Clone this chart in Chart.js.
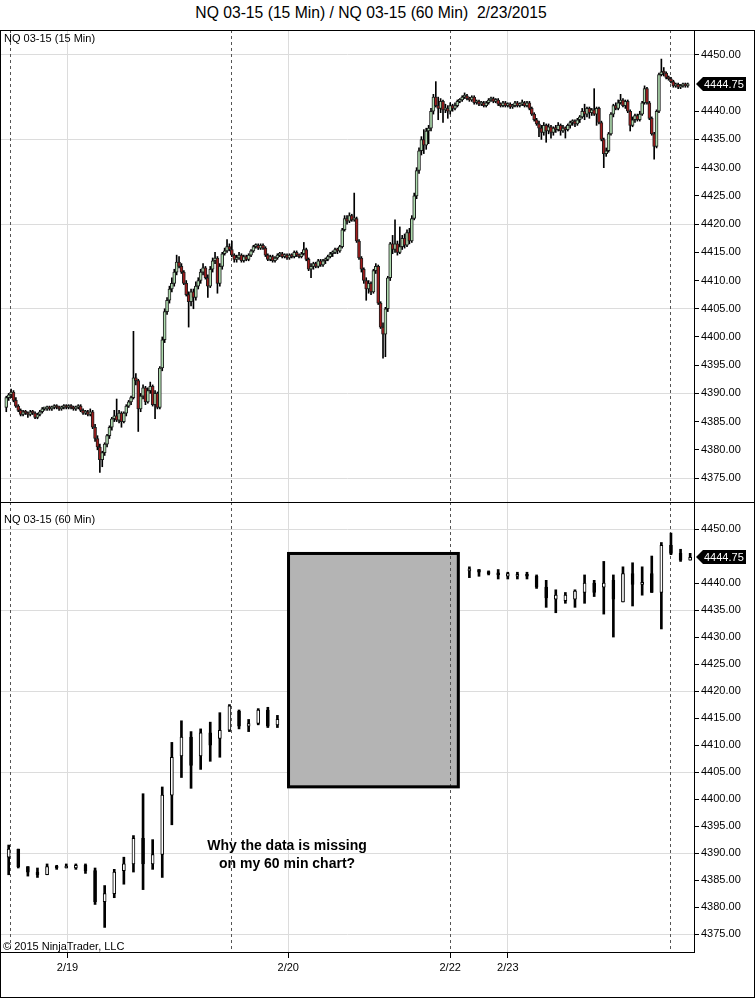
<!DOCTYPE html>
<html>
<head>
<meta charset="utf-8">
<script src="https://cdn.jsdelivr.net/npm/chart.js@4.4.1/dist/chart.umd.min.js"></script>
<style>
  body { margin: 0; background: #fff; font-family: "Liberation Sans", Arial, sans-serif; }
  #wrap { position: relative; width: 755px; height: 999px; overflow: hidden; background: #fff; }
  #title { position: absolute; left: 0; top: 4px; width: 742px; text-align: center; font-size: 15.7px; color: #000; }
  #frame { position: absolute; left: 0; top: 30px; width: 753px; height: 966px; border: 1px solid #000; pointer-events: none; }
  #sep { position: absolute; left: 0; top: 502px; width: 755px; height: 1px; background: #000; }
  canvas { position: absolute; left: 0; }
  #c15 { top: 30px; }
  #c60 { top: 502px; }
</style>
</head>
<body>
<div id="wrap">
  <div id="title">NQ 03-15 (15 Min) / NQ 03-15 (60 Min)&nbsp; 2/23/2015</div>
  <canvas id="c15" width="755" height="472"></canvas>
  <canvas id="c60" width="755" height="497"></canvas>
  <div id="sep"></div>
  <div id="frame"></div>
</div>
<script>
// time axis is in 15 min bar slots, slot 0 = first bar of the 2/18 evening session
const firstSlot15 = -2;
const dateSlots = [23.5, 115.5, 183, 207];
const dateLabels = ['2/19', '2/20', '2/22', '2/23'];
const dateGrid = [true, true, false, true];   // 2/22 falls on a session break
const sessionBreaks = [-0.5, 91.5, 183, 274.5];
const priceTicks = [4450, 4440, 4435, 4430, 4425, 4420, 4415, 4410, 4405, 4400, 4395, 4390, 4385, 4380, 4375];
const gridPrices = [4450, 4435, 4420, 4405, 4390, 4375];
const lastPrice = 4444.75;

// NQ 03-15 (15 Min)
const open15 = [
  4387.5, 4389.25, 4389.75, 4390.25, 4388.75, 4387.75, 4387, 4386.25, 4386.75, 4386.5,
  4386.25, 4386.75, 4386.5, 4385.75, 4386.25, 4386.75, 4387.25, 4387.25, 4387.5, 4387.25,
  4387.5, 4387.75, 4387.5, 4387.25, 4387.5, 4387.75, 4387.5, 4387.75, 4387.5, 4387.25,
  4387.5, 4387.75, 4387, 4386.5, 4386.75, 4386.25, 4386.75, 4384, 4382, 4380.5,
  4378.25, 4379.5, 4381, 4382.5, 4384, 4385.5, 4386, 4385.25, 4386.5, 4385,
  4386.5, 4387.75, 4388.5, 4389.25, 4392.75, 4392.25, 4387.25, 4389.5, 4391, 4388.5,
  4390.5, 4391.25, 4388, 4390, 4387.5, 4394.5, 4399.5, 4404.5, 4406.5, 4408.5,
  4409.5, 4411.5, 4413.25, 4412.5, 4411.5, 4409.5, 4407.5, 4406.25, 4408, 4407,
  4409, 4410, 4411.5, 4412.25, 4410.5, 4409, 4412, 4413.5, 4414, 4409.5,
  4412.5, 4414.75, 4415.25, 4416, 4415.5, 4414.5, 4413.75, 4414, 4414.5, 4413.5,
  4414.25, 4413.75, 4414.5, 4415.25, 4416, 4416.25, 4415.75, 4416.25, 4415.75, 4414.5,
  4413.75, 4414.25, 4413.5, 4414, 4414.5, 4414.75, 4414.25, 4414.5, 4414, 4414.5,
  4414.25, 4415, 4414.5, 4414.25, 4414.75, 4415.5, 4413.75, 4412, 4412.5, 4413,
  4412.5, 4413.5, 4412.75, 4413.5, 4413.75, 4414.25, 4414.75, 4415, 4415.5, 4415.25,
  4416, 4419, 4421, 4420.5, 4421.5, 4420.75, 4421, 4417, 4414, 4412,
  4410, 4408.5, 4409.5, 4408, 4411.75, 4412.5, 4406, 4401.75, 4400.5, 4405,
  4410.5, 4416.5, 4415.5, 4416.5, 4415, 4416, 4417.5, 4416.25, 4418.5, 4417,
  4421, 4425, 4429.5, 4433, 4435, 4434, 4436.5, 4437, 4440, 4442.5,
  4441, 4440.5, 4441.75, 4440.25, 4440.5, 4440, 4441, 4440.5, 4441, 4441.75,
  4442, 4442.5, 4442.75, 4442.25, 4442, 4442.5, 4441.5, 4441.75, 4441.25, 4441.5,
  4441, 4441.5, 4442, 4442.25, 4441.75, 4442, 4441.25, 4441, 4441.5, 4441,
  4441.25, 4440.75, 4441, 4441.5, 4441, 4441.25, 4441.5, 4441, 4441.5, 4440.5,
  4439.5, 4438.5, 4437.75, 4437, 4436.25, 4437.5, 4436.5, 4437.25, 4436.25, 4437,
  4436.75, 4437.5, 4436.5, 4437, 4436.75, 4437.5, 4438, 4438.25, 4437.75, 4438.5,
  4439, 4440, 4439.5, 4440.5, 4439.75, 4440.25, 4439.5, 4440.5, 4438, 4435,
  4432.5, 4433, 4436, 4439.5, 4441, 4440.5, 4441.5, 4442, 4441, 4441.75,
  4440, 4437.5, 4438.5, 4439.25, 4438.5, 4439.5, 4441.5, 4444, 4441.5, 4438.75,
  4436, 4433.75, 4440, 4446.5, 4447, 4446.75, 4446, 4445.75, 4445.25, 4444.5,
  4444.75, 4444.25, 4444.5, 4444.75, 4444.5
];
const high15 = [
  4389.5, 4390, 4390.75, 4390.5, 4389.25, 4388, 4387.25, 4387, 4387, 4386.75,
  4387, 4387, 4386.75, 4386.5, 4387, 4387.5, 4387.5, 4387.75, 4387.75, 4387.75,
  4388, 4388, 4387.75, 4387.75, 4388, 4388, 4388, 4388, 4387.75, 4387.75,
  4388, 4388, 4387.25, 4387, 4387, 4387.25, 4387, 4384.5, 4382.5, 4381,
  4379.75, 4381.25, 4382.75, 4384.25, 4385.75, 4387, 4389, 4387, 4386.75, 4386.75,
  4388, 4388.75, 4389.5, 4401, 4393.5, 4392.5, 4390, 4391.5, 4391.25, 4391,
  4392, 4391.5, 4390.5, 4390.25, 4394.75, 4400, 4405, 4407, 4409, 4410.5,
  4412, 4414.5, 4414.25, 4413, 4411.75, 4410, 4408, 4408.5, 4408.5, 4409.75,
  4410.5, 4412, 4413, 4412.5, 4411, 4412.5, 4414, 4415, 4414.25, 4413,
  4415, 4415.75, 4417.25, 4416.5, 4417, 4414.75, 4414.5, 4415, 4414.75, 4414.5,
  4414.5, 4414.75, 4415.5, 4416.25, 4416.5, 4416.5, 4416.5, 4416.5, 4416, 4414.75,
  4414.5, 4414.5, 4414.25, 4414.75, 4415, 4415, 4414.75, 4414.75, 4414.75, 4414.75,
  4415.25, 4415.25, 4414.75, 4415, 4416.75, 4415.75, 4414, 4413, 4413.25, 4413.25,
  4413.75, 4413.75, 4413.75, 4414, 4414.5, 4415, 4415.25, 4415.75, 4415.75, 4416.25,
  4419.25, 4421.5, 4421.5, 4422, 4421.75, 4425.5, 4421.25, 4417.25, 4414.25, 4412.25,
  4410.5, 4410, 4409.75, 4412, 4413, 4412.75, 4406.25, 4402.5, 4405.25, 4410.75,
  4416.75, 4418, 4420.75, 4417, 4419.5, 4418, 4418.25, 4419, 4419.25, 4421.5,
  4425.5, 4430, 4433.5, 4435.5, 4436.75, 4437, 4437.5, 4440.5, 4443, 4445.25,
  4442.5, 4442.25, 4442, 4441.25, 4441, 4441.5, 4441.25, 4441.5, 4442, 4442.25,
  4442.75, 4443.25, 4443, 4442.5, 4442.75, 4442.75, 4442, 4442, 4441.75, 4441.75,
  4441.75, 4442.25, 4442.5, 4442.5, 4442.25, 4442.25, 4441.5, 4441.75, 4441.75, 4441.5,
  4441.5, 4441.25, 4441.75, 4441.75, 4441.5, 4442, 4441.75, 4441.75, 4441.75, 4440.75,
  4439.75, 4438.75, 4438.25, 4437.5, 4438, 4437.75, 4437.75, 4437.5, 4437.25, 4437.5,
  4438, 4437.75, 4437.5, 4437.25, 4437.75, 4438.25, 4438.5, 4438.5, 4438.75, 4439.25,
  4440.5, 4441.25, 4440.75, 4440.75, 4440.5, 4444, 4440.75, 4440.75, 4438.25, 4435.25,
  4433.5, 4436.25, 4439.75, 4441.25, 4441.5, 4442, 4443, 4442.25, 4442, 4442,
  4440.25, 4439, 4439.5, 4439.5, 4440, 4441.75, 4444.5, 4444.25, 4441.75, 4439,
  4436.25, 4440.25, 4446.75, 4449.25, 4447.75, 4447, 4446.25, 4446, 4445.5, 4445,
  4445, 4444.75, 4445, 4445, 4445
];
const low15 = [
  4386.75, 4388.75, 4389.25, 4388.5, 4387.5, 4386.75, 4386, 4386, 4386.25, 4385.75,
  4386, 4386.25, 4385.5, 4385.5, 4386, 4386.5, 4387, 4387, 4387, 4387,
  4387.25, 4387.25, 4387, 4387, 4387.25, 4387.25, 4387.25, 4387.25, 4387, 4387,
  4387.25, 4386.75, 4386.25, 4386.25, 4386, 4386, 4383.75, 4381.5, 4380, 4376,
  4377, 4379, 4380.5, 4382, 4383.5, 4385, 4385, 4384.75, 4384, 4384.75,
  4386, 4387.5, 4388, 4389, 4391.5, 4383.25, 4386.75, 4389, 4388, 4388.25,
  4390, 4387.75, 4385.5, 4387.25, 4387.25, 4394, 4399, 4404, 4406, 4408,
  4409, 4411, 4412.25, 4411.25, 4409.25, 4407.25, 4401.75, 4405.5, 4405, 4406.5,
  4408.5, 4409.5, 4411, 4410.25, 4407, 4408.75, 4411.5, 4413, 4407.75, 4409,
  4412, 4414.5, 4415, 4415.25, 4414.25, 4413.25, 4413.25, 4413.75, 4413.25, 4413.25,
  4413.5, 4413.5, 4414.25, 4415, 4415.75, 4415.5, 4415.5, 4415.5, 4414.25, 4413.5,
  4413.5, 4413.25, 4413.25, 4413.75, 4414.25, 4414, 4414, 4413.75, 4413.75, 4414,
  4414, 4414.25, 4414, 4414, 4414.5, 4413.5, 4411.75, 4410.5, 4412, 4412.25,
  4412.25, 4412.5, 4412.5, 4413, 4413.5, 4414, 4414.25, 4414.75, 4414.75, 4415,
  4415.75, 4418.75, 4420, 4420.25, 4420.5, 4420.5, 4416.75, 4413.75, 4411.5, 4409.5,
  4406.5, 4407.75, 4407.5, 4407.75, 4411.25, 4405.75, 4401.5, 4396.25, 4396.5, 4404.5,
  4410, 4414.75, 4415, 4414.5, 4414.75, 4415.5, 4415.75, 4416, 4416.5, 4416.75,
  4420.75, 4424.5, 4429, 4432.25, 4432.5, 4433.25, 4434.25, 4436.5, 4439.5, 4440.75,
  4438.5, 4439.75, 4438, 4439.75, 4438.75, 4439.5, 4440, 4440.25, 4440.75, 4441.5,
  4441.75, 4442.25, 4442, 4441.75, 4441.75, 4441.25, 4441.25, 4441, 4441, 4440.75,
  4440.75, 4441.25, 4441.75, 4441.5, 4441.5, 4441, 4440.75, 4440.75, 4440.75, 4440.75,
  4440.5, 4440.5, 4440.75, 4440.75, 4440.75, 4441, 4440.75, 4440.75, 4440.25, 4439.25,
  4438.25, 4437.5, 4435.5, 4435, 4435.75, 4434.5, 4436, 4435.25, 4435.75, 4436.25,
  4436.5, 4435.75, 4436.25, 4435.25, 4436.5, 4437, 4437.5, 4437.25, 4437.5, 4438,
  4438.75, 4438.5, 4439, 4438.75, 4439.25, 4439.25, 4437.5, 4437.75, 4434.75, 4430,
  4432, 4432.75, 4435.75, 4439, 4440.25, 4440.25, 4441.25, 4440.75, 4440.5, 4439.75,
  4436.5, 4437.25, 4438, 4438.25, 4438.25, 4439.25, 4441.25, 4441.25, 4438.5, 4435.75,
  4431.5, 4433.5, 4439.75, 4446.25, 4446.25, 4445.75, 4445.5, 4445, 4444.25, 4444.25,
  4444, 4444, 4444.25, 4444.25, 4444.25
];
const close15 = [
  4389.25, 4389.75, 4390.25, 4388.75, 4387.75, 4387, 4386.25, 4386.75, 4386.5, 4386.25,
  4386.75, 4386.5, 4385.75, 4386.25, 4386.75, 4387.25, 4387.25, 4387.5, 4387.25, 4387.5,
  4387.75, 4387.5, 4387.25, 4387.5, 4387.75, 4387.5, 4387.75, 4387.5, 4387.25, 4387.5,
  4387.75, 4387, 4386.5, 4386.75, 4386.25, 4386.75, 4384, 4382, 4380.5, 4378.25,
  4379.5, 4381, 4382.5, 4384, 4385.5, 4386, 4385.25, 4386.5, 4385, 4386.5,
  4387.75, 4388.5, 4389.25, 4392.75, 4392.25, 4387.25, 4389.5, 4391, 4388.5, 4390.5,
  4391.25, 4388, 4390, 4387.5, 4394.5, 4399.5, 4404.5, 4406.5, 4408.5, 4409.5,
  4411.5, 4413.25, 4412.5, 4411.5, 4409.5, 4407.5, 4406.25, 4408, 4407, 4409,
  4410, 4411.5, 4412.25, 4410.5, 4409, 4412, 4413.5, 4414, 4409.5, 4412.5,
  4414.75, 4415.25, 4416, 4415.5, 4414.5, 4413.75, 4414, 4414.5, 4413.5, 4414.25,
  4413.75, 4414.5, 4415.25, 4416, 4416.25, 4415.75, 4416.25, 4415.75, 4414.5, 4413.75,
  4414.25, 4413.5, 4414, 4414.5, 4414.75, 4414.25, 4414.5, 4414, 4414.5, 4414.25,
  4415, 4414.5, 4414.25, 4414.75, 4415.5, 4413.75, 4412, 4412.5, 4413, 4412.5,
  4413.5, 4412.75, 4413.5, 4413.75, 4414.25, 4414.75, 4415, 4415.5, 4415.25, 4416,
  4419, 4421, 4420.5, 4421.5, 4420.75, 4421, 4417, 4414, 4412, 4410,
  4408.5, 4409.5, 4408, 4411.75, 4412.5, 4406, 4401.75, 4400.5, 4405, 4410.5,
  4416.5, 4415.5, 4416.5, 4415, 4416, 4417.5, 4416.25, 4418.5, 4417, 4421,
  4425, 4429.5, 4433, 4435, 4434, 4436.5, 4437, 4440, 4442.5, 4441,
  4440.5, 4441.75, 4440.25, 4440.5, 4440, 4441, 4440.5, 4441, 4441.75, 4442,
  4442.5, 4442.75, 4442.25, 4442, 4442.5, 4441.5, 4441.75, 4441.25, 4441.5, 4441,
  4441.5, 4442, 4442.25, 4441.75, 4442, 4441.25, 4441, 4441.5, 4441, 4441.25,
  4440.75, 4441, 4441.5, 4441, 4441.25, 4441.5, 4441, 4441.5, 4440.5, 4439.5,
  4438.5, 4437.75, 4437, 4436.25, 4437.5, 4436.5, 4437.25, 4436.25, 4437, 4436.75,
  4437.5, 4436.5, 4437, 4436.75, 4437.5, 4438, 4438.25, 4437.75, 4438.5, 4439,
  4440, 4439.5, 4440.5, 4439.75, 4440.25, 4439.5, 4440.5, 4438, 4435, 4432.5,
  4433, 4436, 4439.5, 4441, 4440.5, 4441.5, 4442, 4441, 4441.75, 4440,
  4437.5, 4438.5, 4439.25, 4438.5, 4439.5, 4441.5, 4444, 4441.5, 4438.75, 4436,
  4433.75, 4440, 4446.5, 4447, 4446.75, 4446, 4445.75, 4445.25, 4444.5, 4444.75,
  4444.25, 4444.5, 4444.75, 4444.5, 4444.75
];

// NQ 03-15 (60 Min), one bar per hour; null = hours missing on the 60 min chart
const open60 = [
  4389.25, 4390.75, 4387.5, 4386.5, 4386, 4387.5, 4387.25, 4387.25, 4387.75, 4386.75,
  4381, 4382.5, 4386.75, 4388, 4392.75, 4388, 4389.75, 4400.75, 4408, 4411.5,
  4408, 4412.25, 4411.25, 4412.75, 4416.25, 4413.5, 4414, 4416.5, 4413.75,
  null, null, null, null, null, null, null, null, null, null,
  null, null, null, null, null, null, null, null, null,
  4442.25, 4442.5, 4442, 4441.75, 4441.25, 4441.25, 4441.5, 4441.25, 4439.25, 4437,
  4436.75, 4437, 4438.25, 4440, 4439.25, 4440.5, 4436.5, 4441.75, 4439.75, 4441.75,
  4438.25, 4447, 4445.5, 4444.25
];
const high60 = [
  4391.5, 4390.75, 4387.5, 4387.25, 4388, 4387.75, 4388, 4388, 4388, 4387.25,
  4384, 4387, 4389.25, 4393.25, 4401, 4392.5, 4402.25, 4410.5, 4414.5, 4412.5,
  4413, 4414.25, 4416, 4417.5, 4416.5, 4414.75, 4416.75, 4417, 4415.5,
  null, null, null, null, null, null, null, null, null, null,
  null, null, null, null, null, null, null, null, null,
  4443, 4442.5, 4442.25, 4442.5, 4442, 4442, 4442, 4441.5, 4440.5, 4438.75,
  4438.25, 4438.75, 4441.5, 4440.5, 4444, 4441.5, 4443, 4443.75, 4443, 4445,
  4447.5, 4449.25, 4446.25, 4445.5
];
const low60 = [
  4386, 4387.25, 4385.75, 4385.5, 4386, 4387, 4387.25, 4387, 4386.25, 4380.5,
  4376.25, 4381.75, 4384.25, 4386.5, 4383.25, 4387, 4385.5, 4395.25, 4404, 4402,
  4405.5, 4407, 4407.75, 4412.5, 4413, 4412.5, 4413.75, 4413.25, 4413.25,
  null, null, null, null, null, null, null, null, null, null,
  null, null, null, null, null, null, null, null, null,
  4441, 4441.25, 4441.5, 4440.75, 4440.75, 4440.75, 4440.75, 4439, 4435.5, 4434.5,
  4436.25, 4435.5, 4436.25, 4437.5, 4434.25, 4430, 4436.5, 4435.75, 4437.75, 4438.25,
  4431.5, 4445.25, 4444, 4444.25
];
const close60 = [
  4390.75, 4387.5, 4386.5, 4386, 4387.5, 4387.25, 4387.5, 4387.75, 4386.75, 4381,
  4382.5, 4386.5, 4388, 4392.75, 4388, 4389.75, 4400.75, 4407.75, 4411.5, 4406.25,
  4412.25, 4410, 4412.75, 4417.25, 4413.5, 4414, 4416.5, 4413.5, 4414.75,
  null, null, null, null, null, null, null, null, null, null,
  null, null, null, null, null, null, null, null, null,
  4442.5, 4442, 4441.75, 4441.5, 4441.75, 4441.5, 4441.25, 4439.25, 4437.25, 4437.75,
  4437.75, 4438.5, 4440, 4438.25, 4440, 4437, 4441.75, 4439.75, 4440, 4438.25,
  4447, 4445.5, 4444.25, 4444.75
];

// note drawn on the 60 min panel, in slot / price units
const note = { x0: 115, x1: 187, top: 4445.75, bottom: 4402 };
const noteLines = ['Why the data is missing', 'on my 60 min chart?'];
const noteSlot = 115;
const notePrices = [4391.25, 4388];

const upColor = '#afdcaf';
const downColor = '#a01c1c';
const font = 'Liberation Sans, Arial, sans-serif';

// build the candle datasets
const wick15 = [], body15 = [], fill15 = [];
open15.forEach((o, n) => {
  const slot = firstSlot15 + n;
  wick15.push({ x: slot, y: [low15[n], high15[n]] });
  body15.push({ x: slot, y: [o, close15[n]] });
  fill15.push(close15[n] >= o ? upColor : downColor);
});

const wick60 = [], body60 = [], fill60 = [];
open60.forEach((o, k) => {
  if (o === null) return;
  const slot = 4 * k - 1;   // hourly bar sits on its last 15 min slot
  wick60.push({ x: slot, y: [low60[k], high60[k]] });
  body60.push({ x: slot, y: [o, close60[k]] });
  fill60.push(close60[k] >= o ? '#fff' : '#000');
});

function timeAxis(showLabels) {
  return {
    type: 'linear', min: -4.2, max: 284.6, offset: false,
    afterBuildTicks: s => { s.ticks = dateSlots.map(v => ({ value: v })); },
    afterFit: s => { s.paddingLeft = 0; s.paddingRight = 0; s.height = showLabels ? 47 : 0; },
    ticks: {
      display: showLabels, autoSkip: false, maxRotation: 0, color: '#000', padding: 3,
      font: { family: font, size: 11 },
      callback: (v, n) => dateLabels[n]
    },
    grid: {
      offset: false,
      color: c => dateGrid[c.index] ? '#dcdcdc' : 'rgba(0,0,0,0)',
      tickColor: '#000', tickLength: 6, drawTicks: showLabels
    },
    border: { display: showLabels, color: '#000' }
  };
}

function priceAxis(min, max) {
  return {
    position: 'right', min: min, max: max,
    afterBuildTicks: s => { s.ticks = priceTicks.map(v => ({ value: v })); },
    afterFit: s => { s.width = 61; s.paddingTop = 0; s.paddingBottom = 0; },
    ticks: {
      color: '#000', padding: 2, font: { family: font, size: 11 },
      callback: v => v.toFixed(2)
    },
    grid: {
      color: c => c.tick && gridPrices.includes(c.tick.value) ? '#dcdcdc' : 'rgba(0,0,0,0)',
      tickColor: '#000', tickLength: 5
    },
    border: { display: true, color: '#000' }
  };
}

const overlay = {
  id: 'overlay',
  beforeDatasetsDraw(chart, args, opts) {
    const { ctx, chartArea: a, scales: { x, y } } = chart;
    ctx.save();
    if (opts.box) {
      const l = x.getPixelForValue(note.x0), r = x.getPixelForValue(note.x1);
      const t = y.getPixelForValue(note.top), b = y.getPixelForValue(note.bottom);
      ctx.fillStyle = '#b4b4b4';
      ctx.fillRect(l, t, r - l, b - t);
    }
    ctx.strokeStyle = '#555';
    ctx.lineWidth = 1;
    ctx.setLineDash([3, 3]);
    sessionBreaks.forEach(s => {
      const px = Math.round(x.getPixelForValue(s)) + 0.5;
      ctx.beginPath();
      ctx.moveTo(px, a.top);
      ctx.lineTo(px, a.bottom);
      ctx.stroke();
    });
    ctx.setLineDash([]);
    if (opts.box) {
      const l = x.getPixelForValue(note.x0), r = x.getPixelForValue(note.x1);
      const t = y.getPixelForValue(note.top), b = y.getPixelForValue(note.bottom);
      ctx.strokeStyle = '#000';
      ctx.lineWidth = 3;
      ctx.strokeRect(l + 1.5, t + 1.5, r - l - 3, b - t - 3);
    }
    ctx.restore();
  },
  afterDraw(chart, args, opts) {
    const { ctx, chartArea: a, scales: { x, y } } = chart;
    ctx.save();
    ctx.fillStyle = '#000';
    ctx.font = '11px ' + font;
    ctx.textBaseline = 'middle';
    ctx.textAlign = 'left';
    ctx.fillText(opts.label, 4, a.top + opts.labelOffset);
    if (opts.copyright) ctx.fillText('\u00a9 2015 NinjaTrader, LLC', 3, a.bottom - 5);

    // last price flag on the price axis
    const py = Math.round(y.getPixelForValue(lastPrice));
    const x0 = a.right + 2;
    ctx.beginPath();
    ctx.moveTo(x0, py);
    ctx.lineTo(x0 + 7, py - 7);
    ctx.lineTo(x0 + 50, py - 7);
    ctx.lineTo(x0 + 50, py + 7);
    ctx.lineTo(x0 + 7, py + 7);
    ctx.closePath();
    ctx.fill();
    ctx.fillStyle = '#fff';
    ctx.fillText(lastPrice.toFixed(2), x0 + 8, py + 1);

    if (opts.box) {
      ctx.fillStyle = '#000';
      ctx.font = 'bold 14px ' + font;
      ctx.textAlign = 'center';
      noteLines.forEach((t, n) => ctx.fillText(t, x.getPixelForValue(noteSlot), y.getPixelForValue(notePrices[n])));
    }
    ctx.restore();
  }
};

function candleChart(id, wicks, bodies, fills, bodyBorder, wickWidth, bodyWidth, yMin, yMax, showX, pluginOpts) {
  return new Chart(document.getElementById(id), {
    type: 'bar',
    data: {
      datasets: [
        { data: wicks, backgroundColor: '#000', borderWidth: 0, barThickness: wickWidth, grouped: false, order: 2 },
        { data: bodies, backgroundColor: fills, borderColor: bodyBorder, borderWidth: 1, borderSkipped: false,
          barThickness: bodyWidth, minBarLength: 2, grouped: false, order: 1 }
      ]
    },
    options: {
      responsive: false, animation: false, devicePixelRatio: 1,
      layout: { padding: { left: 1, right: 0, top: 0, bottom: 0 } },
      scales: { x: timeAxis(showX), y: priceAxis(yMin, yMax) },
      plugins: { legend: { display: false }, tooltip: { enabled: false }, overlay: pluginOpts }
    },
    plugins: [overlay]
  });
}

candleChart('c15', wick15, body15, fill15, '#1e1e1e', 1, 3, 4370.75, 4454.4, false,
  { label: 'NQ 03-15 (15 Min)', labelOffset: 9, copyright: false, box: false });
candleChart('c60', wick60, body60, fill60, '#000', 2, 3, 4371.7, 4455, true,
  { label: 'NQ 03-15 (60 Min)', labelOffset: 18, copyright: true, box: true });
</script>
</body>
</html>
